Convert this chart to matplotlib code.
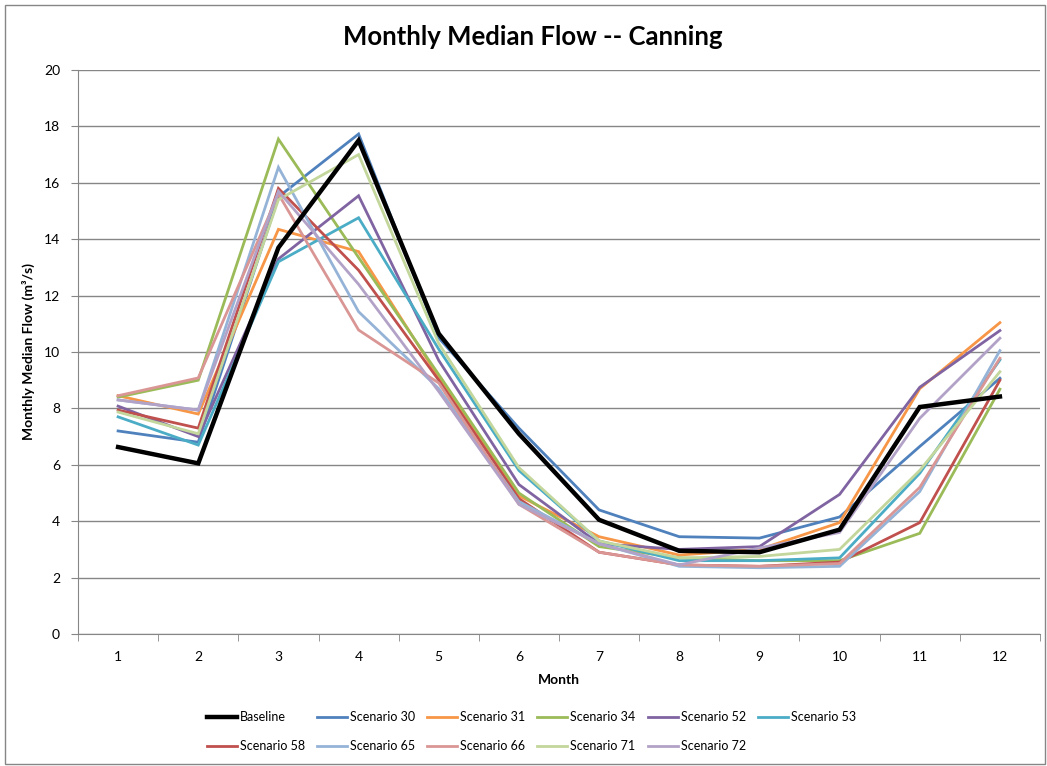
import matplotlib
matplotlib.use('Agg')
import matplotlib.pyplot as plt
from matplotlib.patches import Rectangle

plt.rcParams['font.family'] = ['Lato', 'DejaVu Sans']

months = list(range(1, 13))

baseline = [6.63, 6.05, 13.7, 17.5, 10.65, 7.1, 4.05, 2.95, 2.9, 3.7, 8.05, 8.42]
scen_30 = [7.2, 6.8, 15.5, 17.73, 10.5, 7.3, 4.4, 3.45, 3.4, 4.15, 6.65, 9.07]
scen_31 = [8.45, 7.8, 14.35, 13.56, 9.1, 4.9, 3.45, 2.8, 3.0, 3.95, 8.7, 11.04]
scen_34 = [8.4, 9.0, 17.55, 13.35, 9.2, 5.0, 3.1, 2.7, 2.6, 2.6, 3.57, 8.68]
scen_52 = [8.08, 7.0, 13.3, 15.54, 9.7, 5.3, 3.2, 3.0, 3.1, 4.95, 8.75, 10.76]
scen_53 = [7.7, 6.7, 13.2, 14.76, 10.1, 5.8, 3.3, 2.6, 2.6, 2.7, 5.7, 9.72]
scen_58 = [7.94, 7.3, 15.8, 12.9, 9.0, 4.8, 2.9, 2.45, 2.4, 2.55, 3.95, 9.0]
scen_65 = [8.3, 7.94, 16.55, 11.43, 8.7, 4.7, 3.2, 2.4, 2.35, 2.4, 5.05, 10.05]
scen_66 = [8.45, 9.08, 15.6, 10.78, 8.9, 4.6, 2.9, 2.45, 2.4, 2.5, 5.2, 9.78]
scen_71 = [7.87, 7.1, 15.4, 17.0, 10.3, 5.9, 3.3, 2.7, 2.75, 3.0, 5.8, 9.3]
scen_72 = [8.3, 7.94, 15.7, 12.4, 8.6, 4.6, 3.2, 2.45, 3.05, 3.6, 7.65, 10.49]

names = ['Baseline', 'Scenario 30', 'Scenario 31', 'Scenario 34', 'Scenario 52',
         'Scenario 53', 'Scenario 58', 'Scenario 65', 'Scenario 66', 'Scenario 71',
         'Scenario 72']
series = [baseline, scen_30, scen_31, scen_34, scen_52, scen_53, scen_58,
          scen_65, scen_66, scen_71, scen_72]
colors = ['#000000', '#4F81BD', '#F79646', '#9BBB59', '#8064A2', '#4BACC6',
          '#C0504D', '#95B3D7', '#D99694', '#C3D69B', '#B3A2C7']

fig = plt.figure(figsize=(10.47, 7.66), dpi=100)
ax = fig.add_axes([78 / 1047, 1 - 634 / 766, (1040 - 78) / 1047, (634 - 70) / 766])

handles = []
for name, vals, c in zip(names, series, colors):
    lw = 3.2 if name == 'Baseline' else 2.0
    h, = ax.plot(months, vals, color=c, lw=lw, label=name,
                 solid_joinstyle='miter', zorder=3 if name == 'Baseline' else 2)
    handles.append(h)

ax.set_xlim(0.5, 12.5)
ax.set_ylim(0, 20)
ax.set_yticks(range(0, 21, 2))
ax.set_xticks(months)
ax.set_xticks([m + 0.5 for m in range(0, 13)], minor=True)
ax.tick_params(axis='x', which='major', length=0, labelsize=10, pad=12)
ax.tick_params(axis='x', which='minor', length=5, color='#868686', direction='out')
ax.tick_params(axis='y', length=5, color='#868686', labelsize=10, pad=8)
ax.grid(axis='y', color='#868686', lw=1)
ax.set_axisbelow(True)
for s in ['top', 'right']:
    ax.spines[s].set_visible(False)
for s in ['left', 'bottom']:
    ax.spines[s].set_color('#868686')

ax.set_xlabel('Month', fontsize=10, fontweight='bold', labelpad=8)
ax.set_ylabel('Monthly Median Flow (m³/s)', fontsize=10, fontweight='bold', labelpad=6)
fig.text(533 / 1047, 1 - 37 / 766, 'Monthly Median Flow -- Canning',
         ha='center', va='center', fontsize=18.5, fontweight='bold')

# legend rows: matplotlib fills column by column
order = [0, 6, 1, 7, 2, 8, 3, 9, 4, 10, 5]
fig.legend([handles[i] for i in order], [names[i] for i in order],
           ncol=6, loc='upper left', bbox_to_anchor=(202 / 1047, 1 - 706 / 766),
           frameon=False, fontsize=9, handlelength=2.4, handletextpad=0.25,
           columnspacing=0.95, labelspacing=1.35, borderaxespad=0)

fig.patches.append(Rectangle((5 / 1047, 2 / 766), 1040 / 1047, 759 / 766,
                             transform=fig.transFigure, fill=False,
                             edgecolor='#868686', lw=1))

fig.savefig('out.png', dpi=100)
